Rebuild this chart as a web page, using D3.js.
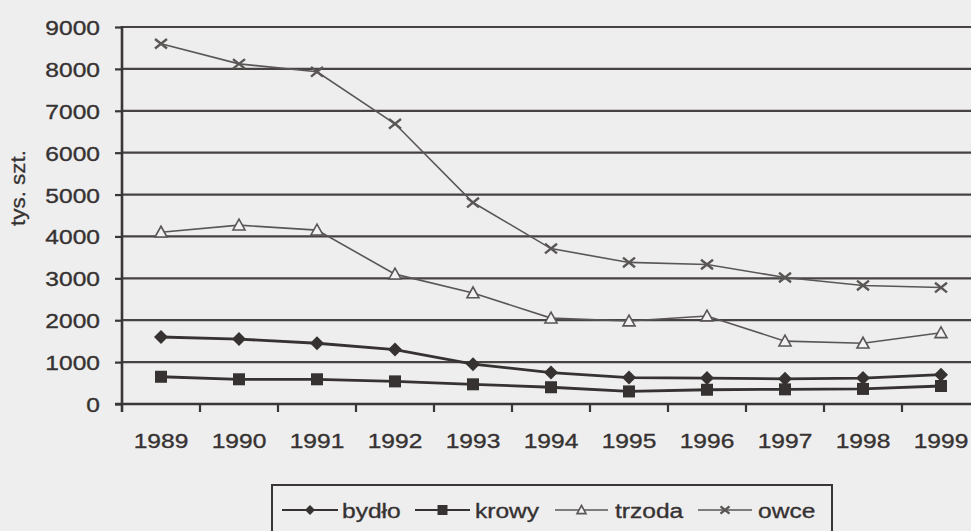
<!DOCTYPE html>
<html><head><meta charset="utf-8">
<script src="https://cdn.jsdelivr.net/npm/d3@7"></script>
<style>html,body{margin:0;padding:0;background:#eeeeee;}svg{display:block;}</style>
</head><body>
<svg id="c" width="971" height="531"></svg>
<script>
const years = ["1989","1990","1991","1992","1993","1994","1995","1996","1997","1998","1999"];
const bydlo  = [1600,1550,1450,1300,950,750,630,620,600,620,700];
const krowy  = [650,590,590,540,470,400,300,340,350,360,430];
const trzoda = [4100,4270,4150,3100,2650,2050,1980,2100,1500,1450,1700];
const owce   = [8600,8120,7930,6690,4810,3710,3380,3330,3020,2830,2780];
const yTicks = [0,1000,2000,3000,4000,5000,6000,7000,8000,9000];
const seriesNames = ["bydło","krowy","trzoda","owce"];
const yTitle = "tys. szt.";

const svg = d3.select("#c");
const FONT = "Arial, 'Liberation Sans', sans-serif";
const SX = 1.17;
const FS = 21;
const TXT = "#363232";

const x = d3.scaleBand().domain(years).range([122, 122 + 78*11]).paddingInner(0).paddingOuter(0);
const y = d3.scaleLinear().domain([0, 9000]).range([404, 27]);

svg.append("rect").attr("width",971).attr("height",531).attr("fill","#eeeeee");

// gridlines
svg.append("g").selectAll("line").data(yTicks.filter(d=>d>0)).join("line")
  .attr("x1",122).attr("x2",980).attr("y1",d=>y(d)).attr("y2",d=>y(d))
  .attr("stroke","#474343").attr("stroke-width",2.2);

function stext(parent, px, py, str, anchor, size){
  return parent.append("text")
    .attr("transform",`translate(${px},${py}) scale(${SX},1)`)
    .attr("text-anchor",anchor).attr("font-family",FONT).attr("font-size",size)
    .attr("fill",TXT).attr("stroke",TXT).attr("stroke-width",0.35).text(str);
}

// y axis
const yAxis = d3.axisLeft(y).tickValues(yTicks).tickSize(7).tickFormat(d3.format("d"));
const gy = svg.append("g").attr("transform","translate(122,0)").call(yAxis);
gy.select(".domain").remove();
gy.selectAll(".tick text").remove();
gy.append("line").attr("x1",0).attr("x2",0).attr("y1",26).attr("y2",412).attr("stroke","#3a3636").attr("stroke-width",2.6);
gy.selectAll(".tick line").attr("stroke","#3a3636").attr("stroke-width",2.2);
gy.selectAll(".tick").each(function(d){
  stext(d3.select(this), -22, 7.5, d3.format("d")(d), "end", FS);
});

// x axis
const gx = svg.append("g").attr("transform","translate(0,404)");
gx.append("line").attr("x1",115).attr("x2",980).attr("y1",0).attr("y2",0).attr("stroke","#3a3636").attr("stroke-width",2.6);
gx.selectAll("line.tk").data(years.slice(1)).join("line").attr("class","tk")
  .attr("x1",d=>x(d)).attr("x2",d=>x(d)).attr("y1",0).attr("y2",8)
  .attr("stroke","#3a3636").attr("stroke-width",2.2);
years.forEach(d=>{ stext(gx, x(d)+x.bandwidth()/2, 44, d, "middle", FS); });

// y title
svg.append("text").attr("transform","translate(25,188) rotate(-90) scale(1.12,1)")
  .attr("text-anchor","middle").attr("font-family",FONT).attr("font-size",20).attr("fill",TXT)
  .attr("stroke",TXT).attr("stroke-width",0.3).text(yTitle);

const cx = d => x(d) + x.bandwidth()/2;
const styles = [
  {data:bydlo, color:"#363232", w:2.8, m:"diamond"},
  {data:krowy, color:"#363232", w:2.8, m:"square"},
  {data:trzoda, color:"#5a5656", w:1.6, m:"triangle"},
  {data:owce, color:"#5a5656", w:1.6, m:"cross"}
];

function marker(g, type, color, px, py, s){
  if(type==="diamond"){
    g.append("path").attr("d",`M${px},${py-s}L${px+s},${py}L${px},${py+s}L${px-s},${py}Z`).attr("fill",color);
  } else if(type==="square"){
    g.append("rect").attr("x",px-s).attr("y",py-s).attr("width",2*s).attr("height",2*s).attr("fill",color);
  } else if(type==="triangle"){
    g.append("path").attr("d",`M${px},${py-s}L${px+s},${py+s*0.8}L${px-s},${py+s*0.8}Z`)
      .attr("fill","#f2f2f2").attr("stroke",color).attr("stroke-width",1.6);
  } else {
    g.append("path").attr("d",`M${px-s},${py-s*0.8}L${px+s},${py+s*0.8}M${px+s},${py-s*0.8}L${px-s},${py+s*0.8}`)
      .attr("stroke",color).attr("stroke-width",2.4).attr("fill","none");
  }
}

const line = d3.line().x((d,i)=>cx(years[i])).y(d=>y(d));
[3,2,0,1].forEach(k=>{
  const s = styles[k];
  svg.append("path").datum(s.data).attr("d",line).attr("fill","none")
    .attr("stroke",s.color).attr("stroke-width",s.w);
});
[3,2,0,1].forEach(k=>{
  const s = styles[k];
  const g = svg.append("g");
  s.data.forEach((v,i)=>{
    const sz = s.m==="diamond"?7:6;
    marker(g, s.m, s.color, cx(years[i]), y(v), sz);
  });
});

// legend
const lg = svg.append("g");
lg.append("rect").attr("x",272).attr("y",485).attr("width",560).attr("height",60)
  .attr("fill","#eeeeee").attr("stroke","#3a3636").attr("stroke-width",2);
const legX = [[282,338,342],[415,470,475],[555,608,615],[698,752,758]];
seriesNames.forEach((name,k)=>{
  const s = styles[k];
  const [a,b,t] = legX[k];
  const ly = 510;
  lg.append("line").attr("x1",a).attr("x2",b).attr("y1",ly).attr("y2",ly).attr("stroke",s.color).attr("stroke-width",Math.min(s.w,2.2));
  marker(lg, s.m, s.color, (a+b)/2, ly, s.m==="diamond"?5:(s.m==="square"?5:4.5));
  stext(lg, t, ly+7.5, name, "start", FS);
});
</script>
</body></html>
